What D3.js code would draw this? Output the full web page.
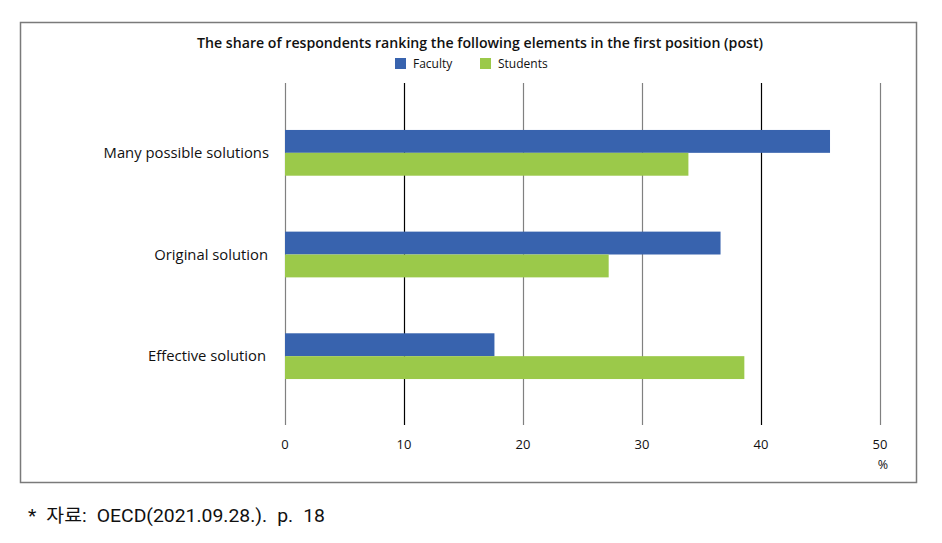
<!DOCTYPE html>
<html><head><meta charset="utf-8">
<script src="https://cdn.jsdelivr.net/npm/d3@7"></script>
<style>body{margin:0;background:#fff}svg{display:block}</style>
</head><body>
<svg id="c" width="942" height="543"></svg>
<script>
const categories = ["Many possible solutions", "Original solution", "Effective solution"];
const seriesNames = ["Faculty", "Students"];
const faculty = [45.8, 36.6, 17.6];
const students = [33.9, 27.2, 38.6];
const ticks = [0, 10, 20, 30, 40, 50];
const colors = ["#3863ae", "#9bc94a"];
const title = "The share of respondents ranking the following elements in the first position (post)";
const source = "* 자료: OECD(2021.09.28.). p. 18";

const svg = d3.select("#c");
const font = "'Open Sans', 'Noto Sans', sans-serif";

svg.append("rect").attr("x", 20.5).attr("y", 22.5).attr("width", 896).attr("height", 460)
  .attr("fill", "#fff").attr("stroke", "#7a7a7a").attr("stroke-width", 1.5);

const x = d3.scaleLinear().domain([0, 50]).range([285, 880]);
const y = d3.scaleBand().domain(categories).range([102, 407]).paddingInner(0.55).paddingOuter(0.275);
const ys = d3.scaleBand().domain(seriesNames).range([0, y.bandwidth()]);

// gridlines
svg.append("g").selectAll("line").data(ticks).join("line")
  .attr("x1", d => Math.round(x(d)) + 0.5).attr("x2", d => Math.round(x(d)) + 0.5)
  .attr("y1", 83).attr("y2", 425)
  .attr("stroke", d => (d === 10 || d === 40) ? "#000" : "#808080").attr("stroke-width", 1.2);

// bars
const data = categories.map((c, i) => ({c, vals: [faculty[i], students[i]]}));
const g = svg.append("g");
data.forEach(d => {
  d.vals.forEach((v, j) => {
    g.append("rect")
      .attr("x", x(0)).attr("y", y(d.c) + ys(seriesNames[j]))
      .attr("width", x(v) - x(0)).attr("height", ys.bandwidth())
      .attr("fill", colors[j]);
  });
});

// category labels
const labelEnd = [269, 268, 266];
svg.append("g").selectAll("text").data(categories).join("text")
  .attr("x", (d, i) => labelEnd[i]).attr("y", d => y(d) + y.bandwidth() / 2)
  .attr("dy", "0.35em").attr("text-anchor", "end")
  .attr("font-family", font).attr("font-size", 14.8).attr("fill", "#111")
  .text(d => d);

// x axis tick labels
svg.append("g").selectAll("text").data(ticks).join("text")
  .attr("x", d => x(d)).attr("y", 449).attr("text-anchor", "middle")
  .attr("font-family", font).attr("font-size", 13).attr("fill", "#111")
  .text(d => d);
svg.append("text").attr("x", x(50) + 3).attr("y", 469).attr("text-anchor", "middle")
  .attr("font-family", font).attr("font-size", 12.5).attr("fill", "#111").text("%");

// title
svg.append("text").attr("x", 480).attr("y", 48).attr("text-anchor", "middle")
  .attr("font-family", font).attr("font-size", 14).attr("font-weight", 600).attr("fill", "#111")
  .attr("textLength", 566).attr("lengthAdjust", "spacingAndGlyphs")
  .text(title);

// legend
const legX = [395, 480];
seriesNames.forEach((s, i) => {
  svg.append("rect").attr("x", legX[i]).attr("y", 58).attr("width", 11).attr("height", 11).attr("fill", colors[i]);
  svg.append("text").attr("x", legX[i] + 18).attr("y", 68).attr("font-family", font)
    .attr("font-size", 12).attr("fill", "#111").text(s);
});

// source
svg.append("text").attr("x", 28).attr("y", 522).attr("font-family", "Roboto, 'Noto Sans CJK KR', sans-serif")
  .attr("font-size", 18.5).attr("fill", "#111")
  .attr("word-spacing", 5)
  .attr("textLength", 297).attr("lengthAdjust", "spacingAndGlyphs")
  .text(source);
</script>
</body></html>
